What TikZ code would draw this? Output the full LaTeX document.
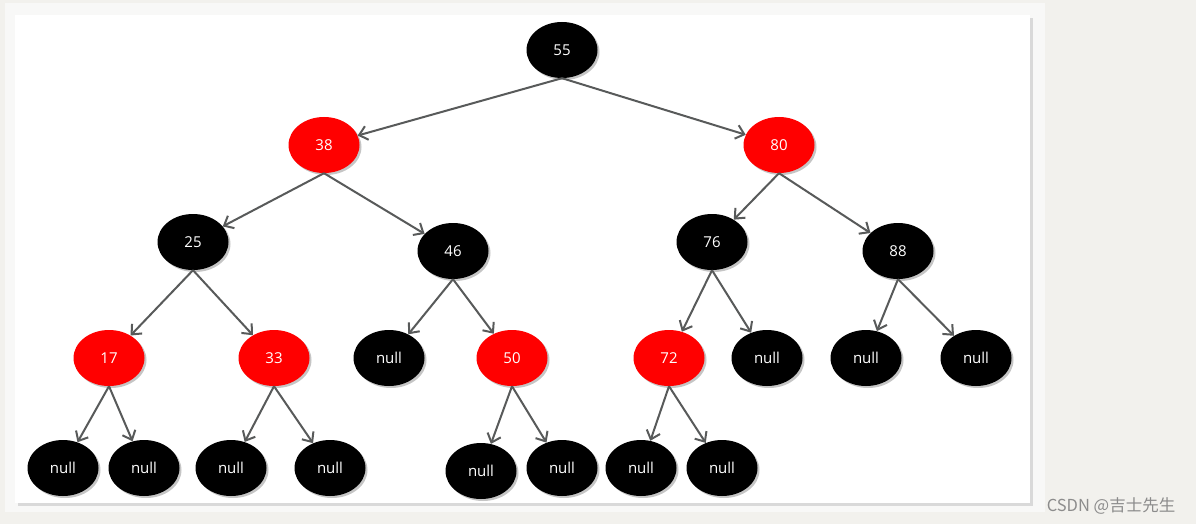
\documentclass[tikz,border=0pt]{standalone}
\usepackage{fontspec}
\setmainfont{Open Sans}
\newfontfamily\cjk{Noto Sans CJK SC}
\usetikzlibrary{arrows.meta, shapes.geometric, shadows}

\definecolor{bgcol}{RGB}{242,241,237}
\definecolor{framecol}{RGB}{248,248,247}
\definecolor{edgecol}{RGB}{88,90,90}
\definecolor{rbred}{RGB}{255,0,0}

\tikzset{
    rbnode/.style={ellipse, minimum width=71pt, minimum height=56pt, inner sep=0pt,
        text=white, font=\fontsize{15}{15}\selectfont,
        drop shadow={opacity=0.45, shadow xshift=2pt, shadow yshift=-2pt}},
    blacknode/.style={rbnode, fill=black},
    rednode/.style={rbnode, fill=rbred},
    treeedge/.style={draw=edgecol, line width=2pt, -{Straight Barb[length=8pt, width=14pt]}}
}

\begin{document}
\begin{tikzpicture}[x=1pt, y=-1pt]
    \useasboundingbox (0,0) rectangle (1196,524);
    \fill[bgcol] (0,0) rectangle (1196,524);
    \fill[framecol] (5,3) rectangle (1045,512);
    \fill[white, drop shadow={opacity=0.25, shadow xshift=3pt, shadow yshift=-3pt}] (15,15) rectangle (1030,503);

    % inner nodes
    \node[blacknode] (n55) at (562,50) {55};
    \node[rednode] (n38) at (324,145) {38};
    \node[rednode] (n80) at (779,145) {80};
    \node[blacknode] (n25) at (193,242) {25};
    \node[blacknode] (n46) at (453,251) {46};
    \node[blacknode] (n76) at (712,242) {76};
    \node[blacknode] (n88) at (898,251) {88};
    \node[rednode] (n17) at (109,358) {17};
    \node[rednode] (n33) at (274,358) {33};
    \node[rednode] (n50) at (512,358) {50};
    \node[rednode] (n72) at (669,358) {72};

    % leaves
    \foreach \name/\x/\y in {l46/389/358, r76/767/358, l88/866/358, r88/976/358,
                             l17/63/468, r17/144/468, l33/231/468, r33/330/468,
                             l50/481/471, r50/562/468, l72/641/468, r72/722/468}
    {
        \node[blacknode] (null-\name) at (\x,\y) {null};
    }

    % edges
    \foreach \from/\to in {n55/n38, n55/n80, n38/n25, n38/n46, n80/n76, n80/n88,
                           n25/n17, n25/n33, n46/null-l46, n46/n50, n76/n72, n76/null-r76,
                           n88/null-l88, n88/null-r88, n17/null-l17, n17/null-r17,
                           n33/null-l33, n33/null-r33, n50/null-l50, n50/null-r50,
                           n72/null-l72, n72/null-r72}
    {
        \draw[treeedge] (\from.south) -- (\to);
    }

    \node[text=black!45, font=\cjk\fontsize{16.5}{16.5}\selectfont] (mark) at (1111,506) {CSDN @吉士先生};
\end{tikzpicture}
\end{document}
